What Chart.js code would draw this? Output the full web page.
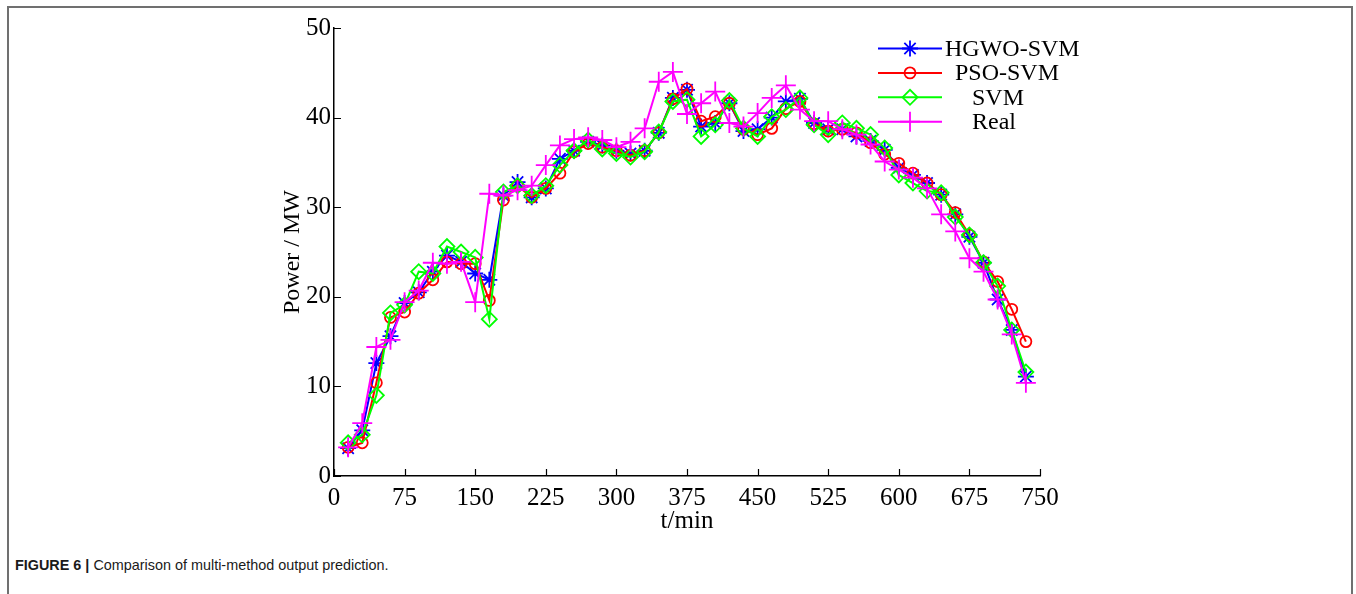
<!DOCTYPE html>
<html>
<head>
<meta charset="utf-8">
<script src="https://cdn.jsdelivr.net/npm/chart.js@4.4.0/dist/chart.umd.min.js"></script>
<style>
  html, body { margin: 0; padding: 0; background: #fff; overflow: hidden; }
  body { width: 1356px; height: 594px; position: relative; }
  #frame { position: absolute; left: 7px; top: 6px; width: 1346px; height: 600px;
           border: 2px solid #707070; box-sizing: border-box; }
  #wrap { position: absolute; left: 0; top: 0; width: 1356px; height: 540px; }
  #caption { position: absolute; left: 15px; top: 557px; font: 14.4px "Liberation Sans", Arial, sans-serif; color: #1a1a1a; }
</style>
</head>
<body>
<div id="frame"></div>
<div id="wrap"><canvas id="powerChart"></canvas></div>
<div id="caption"><b>FIGURE 6 |</b> Comparison of multi-method output prediction.</div>
<script>
// ----- Data -----
const times = [15, 30, 45, 60, 75, 90, 105, 120, 135, 150, 165, 180, 195, 210, 225, 240, 255,
  270, 285, 300, 315, 330, 345, 360, 375, 390, 405, 420, 435, 450, 465, 480, 495, 510, 525,
  540, 555, 570, 585, 600, 615, 630, 645, 660, 675, 690, 705, 720, 735];

const hgwoSvm = [3.1, 5.1, 12.6, 15.6, 19.3, 20.5, 22.8, 24.6, 23.9, 22.6, 21.9, 31.3, 32.8,
  31.1, 32.1, 35.4, 36.3, 37.3, 36.9, 36.3, 36.0, 36.3, 38.3, 42.2, 43.1, 39.0, 39.4, 41.6,
  38.5, 38.7, 40.0, 41.8, 42.1, 39.4, 38.7, 38.7, 37.9, 37.4, 36.4, 34.4, 33.6, 32.7, 31.4,
  29.2, 26.7, 23.8, 19.7, 16.3, 11.1];

const psoSvm = [3.2, 3.7, 10.4, 17.7, 18.3, 20.4, 21.9, 23.9, 23.7, 23.7, 19.6, 30.8, 32.4,
  31.1, 32.1, 33.8, 36.2, 37.1, 36.7, 36.3, 35.8, 36.3, 38.3, 42.1, 43.2, 39.6, 40.1, 41.6,
  38.7, 38.1, 38.8, 41.0, 41.8, 39.3, 38.5, 38.7, 38.3, 37.2, 35.9, 34.9, 33.8, 32.7, 31.4,
  29.4, 26.9, 23.9, 21.7, 18.6, 15.0];

const svm = [3.7, 4.6, 9.0, 18.2, 19.1, 22.8, 22.6, 25.6, 25.0, 24.4, 17.5, 31.7, 32.4,
  31.3, 32.4, 34.7, 36.3, 37.5, 36.5, 36.0, 35.6, 36.2, 38.4, 41.8, 42.0, 37.9, 39.2, 41.9,
  38.8, 37.9, 40.1, 40.9, 42.2, 39.2, 38.1, 39.4, 38.8, 38.1, 36.6, 33.6, 32.7, 31.8, 31.6,
  28.9, 26.9, 23.8, 21.2, 16.3, 11.6];

const real = [3.2, 5.9, 14.4, 15.2, 19.4, 20.7, 23.8, 23.7, 23.9, 19.4, 31.5, 31.3, 31.9,
  32.4, 34.7, 36.9, 37.6, 37.8, 37.5, 36.7, 37.3, 38.8, 44.0, 45.1, 40.4, 41.6, 42.9, 39.4,
  39.0, 40.5, 42.2, 43.6, 40.9, 39.6, 39.6, 38.7, 38.1, 37.0, 35.1, 34.2, 33.3, 32.1, 29.2,
  27.3, 24.3, 22.8, 19.7, 15.8, 10.4];

const seriesNames = ["HGWO-SVM", "PSO-SVM", "SVM", "Real"];
const xTicks = [0, 75, 150, 225, 300, 375, 450, 525, 600, 675, 750];
const yTicks = [0, 10, 20, 30, 40, 50];

const SERIF = '"Liberation Serif", "Times New Roman", serif';
const pts = (vals) => times.map((t, i) => ({ x: t, y: vals[i] }));

// ----- Inward tick marks (MATLAB style) -----
const inwardTicks = {
  id: "inwardTicks",
  afterDraw(chart) {
    const { ctx, scales: { x, y } } = chart;
    ctx.save();
    ctx.strokeStyle = "#000";
    ctx.lineWidth = 1.2;
    ctx.beginPath();
    x.ticks.forEach((t) => {
      const px = Math.round(x.getPixelForValue(t.value)) + 0.5;
      ctx.moveTo(px, y.bottom);
      ctx.lineTo(px, y.bottom - 7);
    });
    y.ticks.forEach((t) => {
      const py = Math.round(y.getPixelForValue(t.value)) + 0.5;
      ctx.moveTo(x.left, py);
      ctx.lineTo(x.left + 7, py);
    });
    ctx.stroke();
    ctx.restore();
  }
};

// ----- Legend box inside the plot -----
const textLeft = [945, 955, 972, 972];
const figLegend = {
  id: "figLegend",
  afterDraw(chart) {
    const ctx = chart.ctx;
    ctx.save();
    chart.data.datasets.forEach((ds, i) => {
      const rowY = 48.5 + i * 24.4;
      ctx.strokeStyle = ds.borderColor;
      ctx.lineWidth = 2;
      ctx.beginPath();
      ctx.moveTo(878, rowY);
      ctx.lineTo(942, rowY);
      ctx.stroke();
      ctx.fillStyle = "rgba(0,0,0,0)";
      ctx.lineWidth = ds.pointBorderWidth;
      Chart.helpers.drawPoint(ctx, {
        pointStyle: ds.pointStyle, radius: ds.pointRadius, rotation: 0, borderWidth: ds.pointBorderWidth
      }, 910, rowY);
      ctx.fillStyle = "#000";
      ctx.font = "24px " + SERIF;
      ctx.textBaseline = "middle";
      ctx.textAlign = "left";
      ctx.fillText(ds.label, textLeft[i], rowY + 1);
    });
    ctx.restore();
  }
};

const mk = (label, vals, color, style, radius, order) => ({
  label,
  data: pts(vals),
  borderColor: color,
  backgroundColor: "rgba(0,0,0,0)",
  borderWidth: 2,
  pointStyle: style,
  pointRadius: radius,
  pointBorderWidth: 1.8,
  pointBackgroundColor: "rgba(0,0,0,0)",
  pointBorderColor: color,
  tension: 0,
  order
});

new Chart(document.getElementById("powerChart"), {
  type: "line",
  data: {
    datasets: [
      mk(seriesNames[0], hgwoSvm, "#0000ff", "star", 8, 3),
      mk(seriesNames[1], psoSvm, "#ff0000", "circle", 5.5, 2),
      mk(seriesNames[2], svm, "#00ff00", "rectRot", 7.5, 1),
      mk(seriesNames[3], real, "#ff00ff", "cross", 10, 0)
    ]
  },
  options: {
    responsive: true,
    maintainAspectRatio: false,
    animation: false,
    layout: { padding: { left: 274, top: 28, right: 316, bottom: 0 } },
    plugins: { legend: { display: false }, tooltip: { enabled: false } },
    scales: {
      x: {
        type: "linear",
        min: 0,
        max: 750,
        afterBuildTicks: (s) => { s.ticks = xTicks.map((v) => ({ value: v })); },
        afterFit: (s) => { s.height = 64; },
        ticks: { color: "#000", font: { family: SERIF, size: 25 }, padding: 7, maxRotation: 0, autoSkip: false },
        grid: { drawOnChartArea: false, drawTicks: false },
        border: { color: "#000", width: 1.5 },
        title: { display: true, text: "t/min", color: "#000", font: { family: SERIF, size: 25 }, padding: { top: 0, bottom: 4 } }
      },
      y: {
        min: 0,
        max: 50,
        afterBuildTicks: (s) => { s.ticks = yTicks.map((v) => ({ value: v })); },
        afterFit: (s) => { s.width = 60; },
        ticks: { color: "#000", font: { family: SERIF, size: 25 }, padding: 3 },
        grid: { drawOnChartArea: false, drawTicks: false },
        border: { color: "#000", width: 1.5 },
        title: { display: true, text: "Power / MW", color: "#000", font: { family: SERIF, size: 24 }, padding: { top: 4, bottom: 0 } }
      }
    }
  },
  plugins: [inwardTicks, figLegend]
});
</script>
</body>
</html>
